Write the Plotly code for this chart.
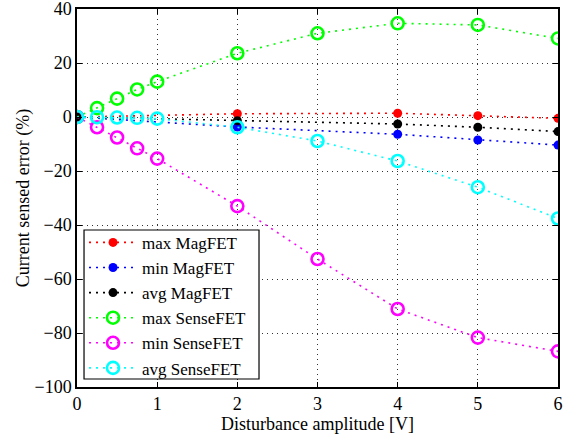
import plotly.graph_objects as go

# ---- data ----
x_mag = [0, 2, 4, 5, 6]
max_mag = [0, 1.2, 1.4, 0.5, -0.5]
min_mag = [0, -3.7, -6.4, -8.5, -10.4]
avg_mag = [0, -1.4, -2.6, -3.8, -5.4]

x_sense = [0, 0.25, 0.5, 0.75, 1, 2, 3, 4, 5, 6]
max_sense = [0, 3.3, 6.8, 10.2, 13.1, 23.6, 31.0, 34.7, 34.1, 29.1]
min_sense = [0, -3.8, -7.6, -11.6, -15.4, -33.0, -52.6, -71.1, -81.7, -86.8]
avg_sense = [0, -0.1, -0.2, -0.3, -0.6, -3.8, -8.9, -16.3, -26.0, -37.6]

x_ticks = [0, 1, 2, 3, 4, 5, 6]
y_ticks = [-100, -80, -60, -40, -20, 0, 20, 40]
y_ticktext = [("\u2212" + str(-v)) if v < 0 else str(v) for v in y_ticks]

FONT = "Liberation Serif"
FS = 18

fig = go.Figure()

def add(x, y, name, color, filled):
    if filled:
        marker = dict(symbol="circle", size=9, color=color, line=dict(width=0))
    else:
        marker = dict(symbol="circle-open", size=12, color=color, line=dict(width=2.6, color=color))
    fig.add_trace(go.Scatter(
        x=x, y=y, name=name, mode="lines+markers",
        line=dict(color=color, width=1.6, dash="2px,5px"),
        marker=marker,
    ))

add(x_mag, max_mag, "max MagFET", "#ff0000", True)
add(x_mag, min_mag, "min MagFET", "#0000ff", True)
add(x_mag, avg_mag, "avg MagFET", "#000000", True)
add(x_sense, max_sense, "max SenseFET", "#00ff00", False)
add(x_sense, min_sense, "min SenseFET", "#ff00ff", False)
add(x_sense, avg_sense, "avg SenseFET", "#00ffff", False)

axis_common = dict(
    showline=True, linecolor="black", linewidth=1.5, mirror="ticks",
    ticks="inside", ticklen=5, tickcolor="black", tickwidth=1,
    showgrid=True, gridcolor="rgba(0,0,0,0.8)", griddash="1px,4px", gridwidth=1,
    zeroline=False, automargin=False, ticklabeloverflow="allow",
    tickfont=dict(family=FONT, size=FS, color="black"),
)

fig.update_xaxes(range=[0, 6], tickvals=x_ticks,
                 title=dict(text="Disturbance amplitude [V]", font=dict(family=FONT, size=FS, color="black"), standoff=2),
                 **axis_common)
fig.update_yaxes(range=[-100, 40], tickvals=y_ticks, ticktext=y_ticktext,
                 title=dict(text="Current sensed error (%)", font=dict(family=FONT, size=FS, color="black"), standoff=0),
                 **axis_common)

# legend frame (opaque box, drawn above the data like the original)
fig.add_shape(type="rect", xref="paper", yref="paper",
              x0=0.0146, x1=0.3784, y0=0.0212, y1=0.4153,
              fillcolor="white", line=dict(color="black", width=1.2), layer="above")

fig.update_layout(
    width=570, height=441,
    margin=dict(l=77, r=12, t=9, b=54),
    paper_bgcolor="white", plot_bgcolor="white",
    font=dict(family=FONT, size=FS, color="black"),
    showlegend=True,
    legend=dict(
        x=0.0146, y=0.429, xanchor="left", yanchor="top",
        bgcolor="rgba(0,0,0,0)", borderwidth=0,
        font=dict(family=FONT, size=17, color="black"),
        itemwidth=48, tracegroupgap=0,
    ),
)

fig.write_html("out.html", config={"displayModeBar": False},
               post_script="document.body.style.margin='0px';document.body.style.overflow='hidden';")
